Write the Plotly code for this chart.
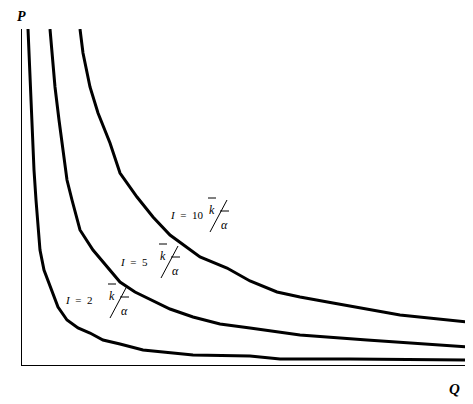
import plotly.graph_objects as go

# indifference-style curves, values (Q, P)
q_i2 = [6, 8, 10, 12, 14, 16, 18, 22, 26, 31, 36, 45, 56, 68, 81, 98, 121, 171, 228, 258, 328, 445]
p_i2 = [336, 285, 235, 195, 165, 135, 115, 95, 85, 72, 58, 45, 37, 32, 25, 21, 15, 10, 9, 6, 6, 5]

q_i5 = [28, 33, 37, 41, 45, 50, 58, 71, 88, 98, 113, 128, 148, 171, 198, 228, 258, 278, 345, 398, 445]
p_i5 = [336, 278, 245, 212, 185, 165, 135, 115, 95, 83, 73, 66, 56, 48, 41, 37, 33, 30, 25, 21, 18]

q_i10 = [58, 61, 68, 76, 88, 98, 115, 131, 148, 165, 178, 205, 228, 255, 278, 311, 378, 445]
p_i10 = [336, 312, 278, 252, 222, 192, 168, 148, 130, 117, 108, 97, 84, 73, 68, 62, 50, 43]

curves = [(q_i2, p_i2), (q_i5, p_i5), (q_i10, p_i10)]

# label text and anchor (Q, P) of the "I = n" part
label_nums = ['2', '5', '10']
label_pos = [(41, 65), (96, 103), (146, 150)]
frac_pos = [(90, 67), (141, 107), (190, 153)]

FONT = 'Liberation Serif'

fig = go.Figure()
for q, p in curves:
    fig.add_trace(go.Scatter(x=q, y=p, mode='lines', line=dict(color='black', width=3),
                             hoverinfo='skip'))

for n, (lx, ly), (fx, fy) in zip(label_nums, label_pos, frac_pos):
    fig.add_annotation(x=lx, y=ly, text='<i>I</i>  =  ' + n, showarrow=False, xanchor='left',
                       font=dict(family=FONT, size=11, color='black'))
    # k with bar
    fig.add_annotation(x=fx, y=fy + 2, text='<i>k</i>', showarrow=False,
                       font=dict(family=FONT, size=12, color='black'))
    fig.add_shape(type='line', x0=fx - 4, x1=fx + 4, y0=fy + 14, y1=fy + 14,
                  line=dict(color='black', width=1))
    # slash and bar
    fig.add_shape(type='line', x0=fx - 2, x1=fx + 15, y0=fy - 20, y1=fy + 12,
                  line=dict(color='black', width=1))
    fig.add_shape(type='line', x0=fx + 8, x1=fx + 17, y0=fy + 1, y1=fy + 1,
                  line=dict(color='black', width=1))
    fig.add_annotation(x=fx + 12, y=fy - 13, text='<i>α</i>', showarrow=False,
                       font=dict(family=FONT, size=12, color='black'))

fig.add_annotation(x=0, y=1, xref='paper', yref='paper', text='<b><i>P</i></b>', showarrow=False,
                   xanchor='center', yanchor='middle', yshift=13, xshift=-1,
                   font=dict(family=FONT, size=14, color='black'))
fig.add_annotation(x=0.97, y=0, xref='paper', yref='paper', text='<b><i>Q</i></b>', showarrow=False,
                   xanchor='center', yanchor='top', yshift=-14,
                   font=dict(family=FONT, size=15, color='black'))

fig.update_xaxes(range=[0, 446], showline=True, linecolor='black', linewidth=1, showgrid=False,
                 zeroline=False, showticklabels=False, ticks='')
fig.update_yaxes(range=[0, 336], showline=True, linecolor='black', linewidth=1, showgrid=False,
                 zeroline=False, showticklabels=False, ticks='')
# page body has an 8px margin, so the figure is shrunk and shifted to line up
fig.update_layout(width=465, height=396, margin=dict(l=14, r=5, t=21, b=39),
                  plot_bgcolor='white', paper_bgcolor='white', showlegend=False)

fig.write_html("out.html")
